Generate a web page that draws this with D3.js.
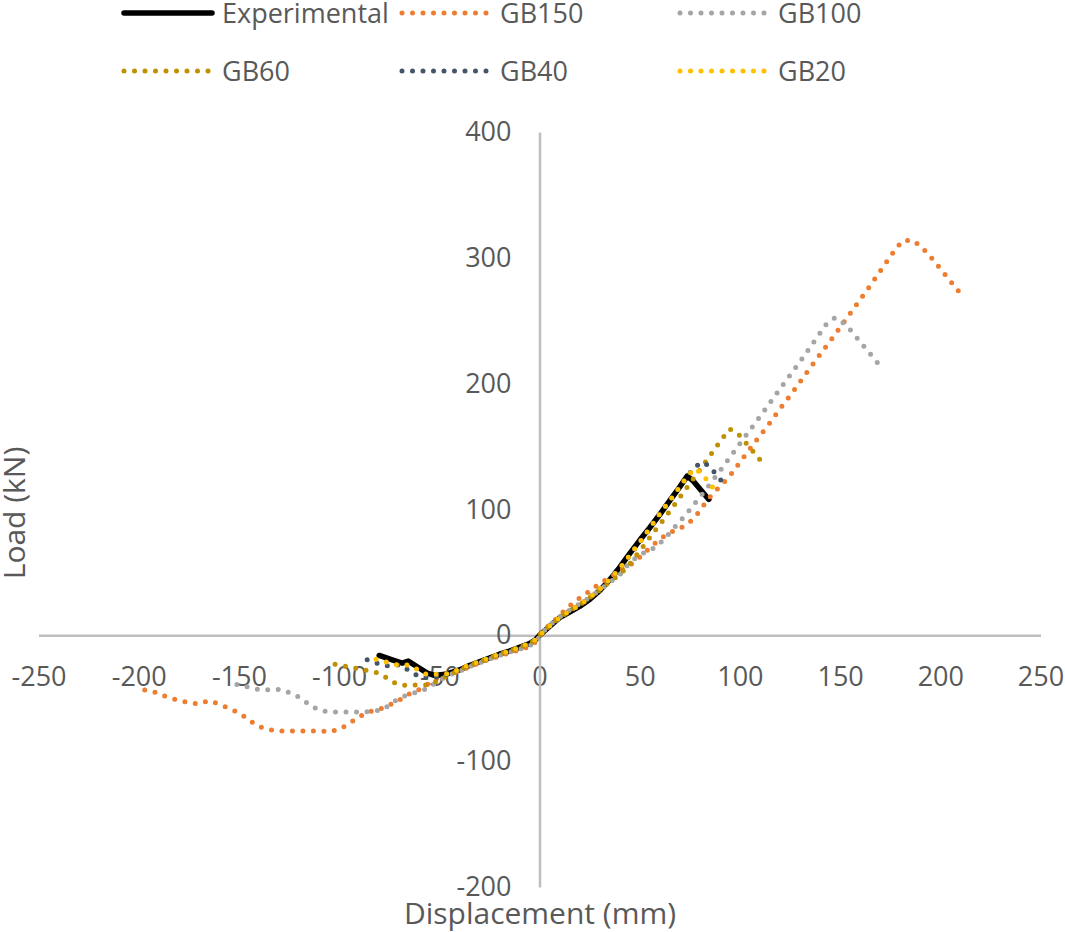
<!DOCTYPE html>
<html>
<head>
<meta charset="utf-8">
<script src="https://cdn.jsdelivr.net/npm/d3@7"></script>
<style>
body { margin: 0; background: #fff; }
text { font-family: 'Open Sans', sans-serif; fill: #595959; }
.axis path { stroke: #bfbfbf; stroke-width: 2.5; }
.axis text { font-size: 27px; font-family: 'Open Sans', sans-serif; fill: #595959; }
</style>
</head>
<body>
<svg id="plotarea"></svg>
<script>
// series: [displacement (mm), load (kN)]
const experimental = [
    [-80, -16], [-73.5, -19.5], [-68.5, -22], [-65.5, -20.5], [-61, -25], [-56, -30],
    [-52, -32], [-47, -31], [-40, -27.5], [-35, -24], [-30, -21], [-25, -18], [-20, -15],
    [-15, -12.5], [-10, -9.5], [-5, -6.5], [-2, -3.5], [0, 0], [5, 7], [10, 14], [15, 18.5],
    [20, 23], [25, 28.5], [30, 35.5], [35, 44], [40, 54], [45, 65], [50, 75.5], [55, 85.5],
    [60, 96], [65, 107], [70, 118], [73.7, 126.5], [76.5, 123], [84.5, 108]
];
const gb150 = [
    [-197, -43.5], [-191, -45.5], [-186, -49], [-180.5, -51.5], [-175, -53.5], [-170, -54.5],
    [-165, -52], [-160, -54.5], [-155, -58], [-150, -61.5], [-145.5, -66.5], [-141, -72],
    [-136, -74.5], [-131, -76], [-120, -76], [-110, -76], [-104, -76.5], [-99, -74],
    [-94.5, -69.5], [-90, -64.7], [-85, -60.7], [-79.5, -58.5], [-75, -55.5], [-69.5, -51],
    [-65, -46.5], [-60, -43], [-55, -38], [-51.5, -34.5], [-46, -31], [-40, -28.5],
    [-35, -25], [-30, -22], [-25, -19], [-20, -16.5], [-15, -14], [-10, -11.5], [-5, -9],
    [-1, -4], [0, 0], [5, 8.5], [10, 15.5], [12.6, 20], [17, 26], [21, 30.7], [25.4, 35.5],
    [29.6, 40.8], [35, 46], [40, 51.5], [43.8, 54.5], [48, 59], [52, 65], [56, 71],
    [60, 76.3], [64.2, 81], [69.4, 84.5], [74, 88.5], [77.8, 94.3], [84.3, 108.5],
    [88, 115], [91.7, 121], [95.2, 127.2], [101.6, 141], [108.1, 154.7], [114.8, 168.5],
    [121.1, 182.3], [127.6, 196], [133.9, 210], [140.2, 223.6], [146.7, 237.4],
    [153, 251.2], [159.3, 265.2], [165.5, 279], [171.7, 293.3], [177.8, 307.3],
    [181.3, 313.7], [186.3, 314], [190.6, 308.7], [194.3, 302.5], [201.1, 289.3],
    [207.9, 275.8], [212, 268]
];
const gb100 = [
    [-151, -39], [-144.5, -41.5], [-139, -43.5], [-134, -43], [-129, -43], [-124, -46],
    [-119, -50], [-114.5, -55.5], [-110, -59.5], [-104.5, -61], [-99, -61], [-94, -61],
    [-88.5, -61], [-83.5, -60.5], [-78, -59], [-73.5, -53.5], [-69, -49], [-64, -46.5],
    [-58.5, -44], [-53.5, -39.5], [-48, -34], [-45, -31.5], [-40, -28.5], [-35, -25],
    [-30, -22], [-25, -19], [-20, -16], [-15, -13.5], [-10, -11], [-5, -8.5], [-1, -4],
    [0, 0], [5, 8], [10, 14.5], [15, 20], [20, 25], [25, 30], [30, 36], [35, 42],
    [40, 48], [44.6, 57], [48.4, 62], [53, 66.5], [58, 70], [62, 76], [72.5, 95],
    [82.8, 115.3], [92.5, 136], [102, 156.6], [111.6, 177.3], [121.1, 198.2],
    [130.7, 219], [139.9, 240], [143, 247], [147.5, 252.5], [151.8, 248], [155.5, 242],
    [169.5, 215]
];
const gb60 = [
    [-102, -23], [-92, -26], [-86, -28], [-81.5, -29.5], [-76.5, -33.5], [-72, -38],
    [-66.5, -40], [-61.5, -39.5], [-56.5, -39.5], [-52, -37], [-47, -33], [-43, -30],
    [-40, -27.5], [-35, -24], [-30, -21], [-25, -18], [-20, -15], [-15, -12.5],
    [-10, -9.5], [-5, -6.5], [-2, -3.5], [0, 0], [5, 7.5], [10, 14], [15, 19.5],
    [20, 24], [25, 30], [30, 36], [35, 42.5], [40, 48.5], [44, 54.5], [50, 67],
    [53.4, 74], [56.5, 81], [60, 88], [66.4, 101.7], [72.7, 115.5], [79, 129.2],
    [85.3, 143.3], [91.6, 157.4], [95, 164], [99.4, 159.7], [103, 153], [106.4, 146.5],
    [110, 139.5]
];
const gb40 = [
    [-86, -19.5], [-80.5, -22.5], [-75, -24.5], [-70, -23.5], [-65, -28], [-60.5, -32.5],
    [-56, -33.5], [-51, -33], [-47, -31.5], [-45, -30.5], [-40, -27], [-35, -23.5],
    [-30, -21], [-25, -18], [-20, -15], [-15, -12.5], [-10, -9.5], [-5, -6.5], [-2, -3.5],
    [0, 0], [5, 7.5], [10, 14], [15, 19.5], [20, 24], [25, 30], [30, 36.5], [35, 44.5],
    [40, 53], [45, 63.5], [50, 74], [55, 85], [60, 96.5], [65, 107], [70, 118],
    [74.5, 128], [78, 134.5], [82.3, 137.5], [86.2, 131.5], [89.7, 125], [93.5, 117.5]
];
const gb20 = [
    [-81.5, -19], [-76, -21.5], [-71, -23.5], [-66, -23.5], [-61, -27], [-56.5, -31],
    [-51.5, -31], [-47, -30.5], [-45, -30.5], [-40, -27], [-35, -23.5], [-30, -21],
    [-25, -18], [-20, -15], [-15, -12.5], [-10, -9.5], [-5, -6.5], [-2, -3.5], [0, 0],
    [5, 7.5], [10, 14], [15, 19.5], [20, 24], [25, 30], [30, 36.5], [35, 44.5], [40, 53],
    [45, 63.5], [50, 74], [55, 85], [60, 96.5], [65, 107], [70, 118], [74.5, 128],
    [77.8, 132.5], [82, 126.5], [89, 112.5]
];

const seriesNames = ['Experimental', 'GB150', 'GB100', 'GB60', 'GB40', 'GB20'];
const seriesColors = ['#000000', '#ed7d31', '#a5a5a5', '#bf9000', '#44546a', '#ffc000'];
const seriesData = [experimental, gb150, gb100, gb60, gb40, gb20];
const xTicks = [-250, -200, -150, -100, -50, 0, 50, 100, 150, 200, 250];
const yTicks = [-200, -100, 0, 100, 200, 300, 400];

const width = 1065, height = 932;

var svg = d3.select('#plotarea')
            .attr('width', width)
            .attr('height', height);

var x = d3.scaleLinear().domain([-250, 250]).range([38.5, 1040.5]);
var y = d3.scaleLinear().domain([-200, 400]).range([887, 132]);

// X axis through the origin
svg.append('g')
   .attr('class', 'axis x-axis')
   .attr('transform', `translate(0, ${y(0)})`)
   .call(d3.axisBottom(x).tickValues(xTicks).tickSize(0).tickPadding(32)
           .tickFormat(d => String(d)));

// Y axis through the origin
svg.append('g')
   .attr('class', 'axis y-axis')
   .attr('transform', `translate(${x(0)}, 0)`)
   .call(d3.axisLeft(y).tickValues(yTicks).tickSize(0).tickPadding(28)
           .tickFormat(d => String(d)));

// axis titles
svg.append('text')
   .attr('x', 540)
   .attr('y', 924)
   .style('text-anchor', 'middle')
   .style('font-size', '30px')
   .text('Displacement (mm)');

svg.append('text')
   .attr('transform', 'translate(25, 513) rotate(-90)')
   .style('text-anchor', 'middle')
   .style('font-size', '30px')
   .text('Load (kN)');

var line = d3.line()
             .x(d => x(d[0]))
             .y(d => y(d[1]));

function styleSeries(sel, i) {
    sel.attr('fill', 'none')
       .attr('stroke', seriesColors[i])
       .attr('stroke-width', i === 0 ? 5.5 : 5)
       .attr('stroke-linecap', 'round')
       .attr('stroke-linejoin', 'round');
    if (i > 0) sel.attr('stroke-dasharray', '0 10.5');
}

seriesData.forEach(function(d, i) {
    svg.append('path')
       .attr('class', 'series')
       .attr('d', line(d))
       .call(styleSeries, i);
});

// Legend, 3 columns x 2 rows
var legend = svg.append('g').attr('class', 'legend');
seriesNames.forEach(function(name, i) {
    var col = i % 3, row = Math.floor(i / 3);
    var lx = 124 + col * 278, ly = 13 + row * 58;
    legend.append('path')
          .attr('d', `M${lx},${ly}H${lx + 88}`)
          .call(styleSeries, i);
    legend.append('text')
          .attr('x', lx + 98)
          .attr('y', ly + 10)
          .style('font-size', '27px')
          .text(name);
});
</script>
</body>
</html>
